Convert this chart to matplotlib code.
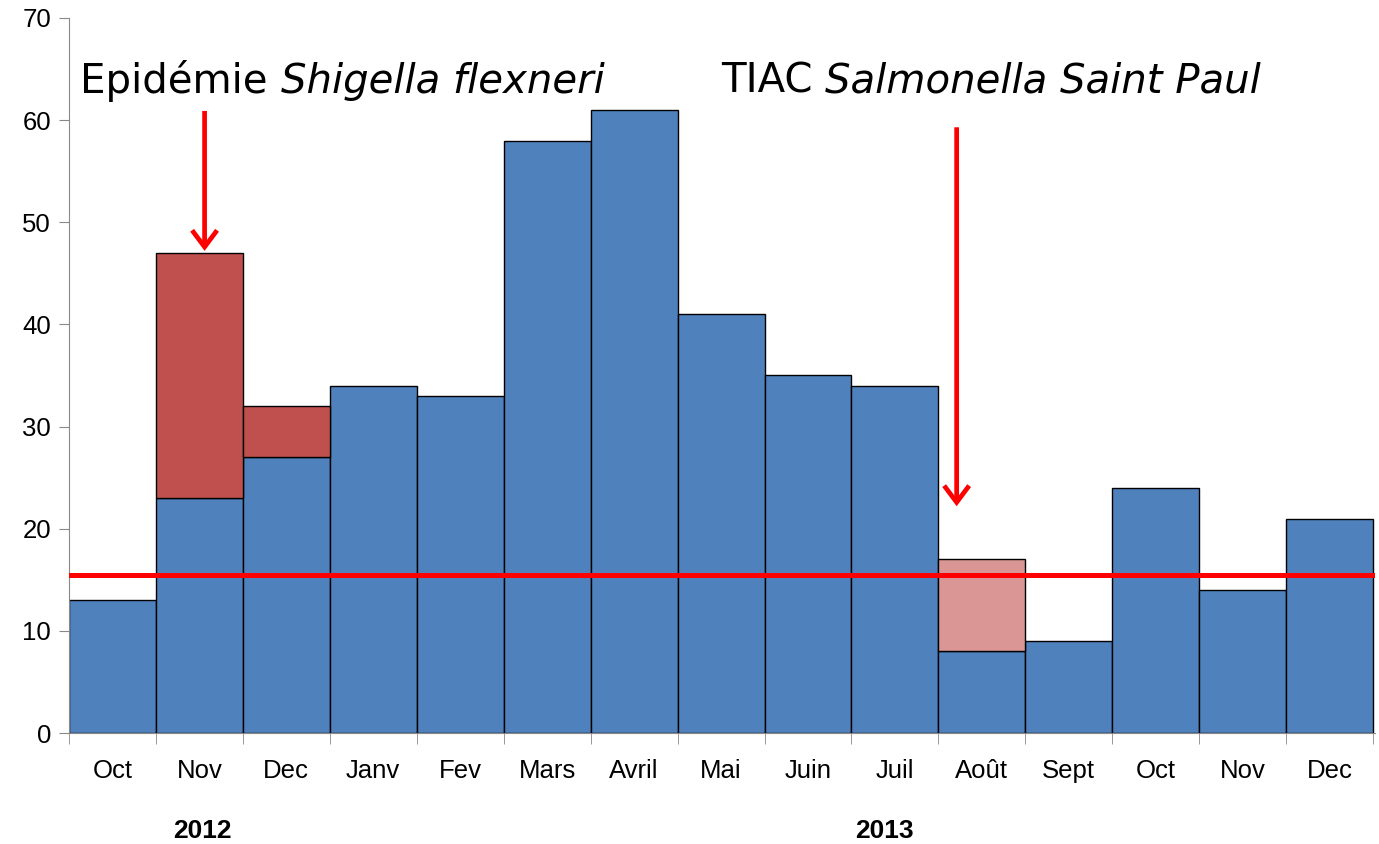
import matplotlib
matplotlib.use("Agg")
import matplotlib.pyplot as plt
import numpy as np
from matplotlib.transforms import blended_transform_factory

months = ["Oct", "Nov", "Dec", "Janv", "Fev", "Mars", "Avril", "Mai", "Juin",
          "Juil", "Août", "Sept", "Oct", "Nov", "Dec"]
base_cases = [13, 23, 27, 34, 33, 58, 61, 41, 35, 34, 8, 9, 24, 14, 21]
shigella_cases = [0, 24, 5, 0, 0, 0, 0, 0, 0, 0, 0, 0, 0, 0, 0]
salmonella_cases = [0, 0, 0, 0, 0, 0, 0, 0, 0, 0, 9, 0, 0, 0, 0]
threshold = 15.5
years = ["2012", "2013"]
year_positions = [1.03, 8.88]

fig = plt.figure(figsize=(13.79, 8.44), dpi=100)
ax = fig.add_axes([0.050, 0.1315, 0.947, 0.8472])

x = np.arange(len(months))
base = np.array(base_cases)
shig = np.array(shigella_cases)
salm = np.array(salmonella_cases)

ax.bar(x, base, width=1.0, color="#4F81BD", edgecolor="black", linewidth=1.0, zorder=2)
mask = shig > 0
ax.bar(x[mask], shig[mask], bottom=base[mask], width=1.0, color="#C0504D",
       edgecolor="black", linewidth=1.0, zorder=2)
mask = salm > 0
ax.bar(x[mask], salm[mask], bottom=base[mask], width=1.0, color="#D99694",
       edgecolor="black", linewidth=1.0, zorder=2)

ax.axhline(threshold, color="#FF0000", linewidth=3.6, zorder=3)

ax.set_xlim(-0.5, 14.52)
ax.set_ylim(0, 70)
ax.set_yticks(range(0, 71, 10))
ax.tick_params(axis="y", labelsize=18.5, length=7, color="#888888", pad=6)
ax.set_xticks(x)
ax.set_xticklabels(months, fontsize=18.5, family="Liberation Sans")
ax.set_xticks(np.arange(-0.5, 15, 1), minor=True)
ax.tick_params(axis="x", which="major", length=0, pad=19)
ax.tick_params(axis="x", which="minor", length=8, color="#888888")
for lab in ax.get_yticklabels():
    lab.set_family("Liberation Sans")

for s in ["top", "right"]:
    ax.spines[s].set_visible(False)
ax.spines["left"].set_color("#888888")
ax.spines["bottom"].set_color("#888888")

trans = blended_transform_factory(ax.transData, ax.transAxes)
for yr, pos in zip(years, year_positions):
    ax.text(pos, -0.137, yr, transform=trans, ha="center", va="center",
            fontsize=19, fontweight="bold", family="Liberation Sans")

arrow_kw = dict(arrowstyle="->,head_width=0.45,head_length=0.6",
                color="#FF0000", lw=3.4, shrinkA=0, shrinkB=0,
                mutation_scale=20, capstyle="butt", joinstyle="miter")
ax.annotate("", xy=(1.06, 47.2), xytext=(1.06, 60.9), arrowprops=arrow_kw, zorder=4)
ax.annotate("", xy=(9.71, 22.2), xytext=(9.71, 59.3), arrowprops=arrow_kw, zorder=4)

fs = 29
r = fig.canvas.get_renderer()
inv = ax.transData.inverted()

t = ax.text(-0.37, 63.8, "Epidémie ", fontsize=fs, va="center", ha="left")
fig.canvas.draw()
bb = t.get_window_extent(r)
xs = inv.transform((bb.x1, 0))[0]
ax.text(xs, 63.8, "Shigella flexneri", fontsize=fs, va="center", ha="left",
        style="italic")

t = ax.text(7.0, 63.8, "TIAC ", fontsize=fs, va="center", ha="left")
fig.canvas.draw()
bb = t.get_window_extent(r)
xs = inv.transform((bb.x1, 0))[0]
ax.text(xs, 63.8, "Salmonella Saint Paul", fontsize=fs, va="center", ha="left",
        style="italic")

fig.savefig("out.png", dpi=100)
